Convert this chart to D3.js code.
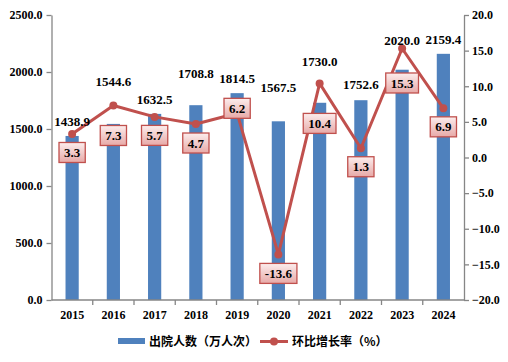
<!DOCTYPE html>
<html><head><meta charset="utf-8">
<script src="https://cdn.jsdelivr.net/npm/d3@7"></script>
<style>body{margin:0;background:#fff}svg{display:block}</style>
</head><body><svg id="c" width="508" height="362"></svg>
<script>
const years = ["2015","2016","2017","2018","2019","2020","2021","2022","2023","2024"];
const discharges = [1438.9,1544.6,1632.5,1708.8,1814.5,1567.5,1730.0,1752.6,2020.0,2159.4];
const growth = [3.3,7.3,5.7,4.7,6.2,-13.6,10.4,1.3,15.3,6.9];
const leftTicks = [0,500,1000,1500,2000,2500];
const rightTicks = [-20,-15,-10,-5,0,5,10,15,20];
const barName = "出院人数（万人次）";
const lineName = "环比增长率（%）";

// layout (pixel nudges for manually placed labels)
const valueLabelY = [121,81,99,73,78,87,61,84,40,39];
const pctLabelDy = [18.5,30,18.5,19,-5,19,40,18.5,34.5,18.5];

const svg = d3.select("#c");
const L = 51.5, R = 464, T = 15, B = 300;
const serif = "'Liberation Serif','Times New Roman',serif";
const cjk = "'Noto Sans CJK SC',sans-serif";
const axisColor = "#868686";

const x = d3.scaleBand().domain(years).range([L,R]).paddingInner(0.68).paddingOuter(0.34);
const yL = d3.scaleLinear().domain([0,2500]).range([B,T]);
const yR = d3.scaleLinear().domain([-20,20]).range([B,T]);
const cx = d => x(d) + x.bandwidth()/2;

const defs = svg.append("defs");
const g = defs.append("linearGradient").attr("id","pk").attr("x1",0).attr("y1",0).attr("x2",0).attr("y2",1);
g.append("stop").attr("offset","0%").attr("stop-color","#FCEDED");
g.append("stop").attr("offset","100%").attr("stop-color","#E7A9A7");

// bars
svg.append("g").selectAll("rect").data(years).join("rect")
  .attr("x", d => x(d)).attr("width", x.bandwidth())
  .attr("y", (d,i) => yL(discharges[i])).attr("height", (d,i) => B - yL(discharges[i]))
  .attr("fill","#4F81BD");

// axes
function styleAxis(sel){
  sel.selectAll("path,line").attr("stroke",axisColor).attr("stroke-width",1.3);
  sel.selectAll("text").attr("font-family",serif).attr("font-weight","bold").attr("font-size",12).attr("fill","#000");
}
const ax1 = svg.append("g").attr("transform",`translate(${L},0)`)
  .call(d3.axisLeft(yL).tickValues(leftTicks).tickFormat(d3.format(".1f")).tickSize(5).tickSizeOuter(0).tickPadding(4));
styleAxis(ax1);
const ax2 = svg.append("g").attr("transform",`translate(${R},0)`)
  .call(d3.axisRight(yR).tickValues(rightTicks).tickFormat(d3.format(".1f")).tickSize(5).tickSizeOuter(0).tickPadding(3));
styleAxis(ax2);
const ax3 = svg.append("g").attr("transform",`translate(0,${B})`)
  .call(d3.axisBottom(x).tickSize(0).tickSizeOuter(0).tickPadding(10));
styleAxis(ax3);
ax3.select("path").attr("d",`M${L},0H${R}`);
ax3.selectAll(".tick text").attr("dy","0.71em").attr("y",10);
const step = x.step();
svg.append("g").selectAll("line").data(d3.range(1,years.length)).join("line")
  .attr("x1", i => L + i*step).attr("x2", i => L + i*step)
  .attr("y1",B).attr("y2",B+5).attr("stroke",axisColor).attr("stroke-width",1.3);

// line
const line = d3.line().x((d,i) => cx(years[i])).y(d => yR(d));
svg.append("path").datum(growth).attr("d",line).attr("fill","none")
  .attr("stroke","#C0504D").attr("stroke-width",3).attr("stroke-linejoin","round");
svg.append("g").selectAll("circle").data(growth).join("circle")
  .attr("cx",(d,i)=>cx(years[i])).attr("cy",d=>yR(d)).attr("r",4).attr("fill","#C0504D");

// value labels
svg.append("g").selectAll("text").data(discharges).join("text")
  .attr("x",(d,i)=>cx(years[i])).attr("y",(d,i)=>valueLabelY[i])
  .attr("text-anchor","middle").attr("dy","0.35em")
  .attr("font-family",serif).attr("font-weight","bold").attr("font-size",13).attr("fill","#000")
  .text(d=>d.toFixed(1));

// percent labels
const pg = svg.append("g");
growth.forEach((v,i)=>{
  const px = cx(years[i]), py = yR(v) + pctLabelDy[i];
  const grp = pg.append("g");
  const r = grp.append("rect");
  const t = grp.append("text").attr("x",px).attr("y",py).attr("dy","0.35em").attr("text-anchor","middle")
    .attr("font-family",serif).attr("font-weight","bold").attr("font-size",13).attr("fill","#000").text(v.toFixed(1));
  const w = t.node().getComputedTextLength() + 10, h = 20;
  r.attr("x",px-w/2).attr("y",py-h/2).attr("width",w).attr("height",h)
    .attr("fill","url(#pk)").attr("stroke","#C0504D").attr("stroke-width",1.3);
});

// legend
const lg = svg.append("g");
lg.append("rect").attr("x",118).attr("y",338).attr("width",27).attr("height",6).attr("fill","#4F81BD");
lg.append("text").attr("x",149).attr("y",342).attr("dy","0.35em").attr("font-family",cjk).attr("font-weight","bold")
  .attr("font-size",12).attr("fill","#000").text(barName);
lg.append("line").attr("x1",260).attr("x2",288).attr("y1",341.5).attr("y2",341.5).attr("stroke","#C0504D").attr("stroke-width",3);
lg.append("circle").attr("cx",274).attr("cy",341.5).attr("r",4).attr("fill","#C0504D");
lg.append("text").attr("x",292).attr("y",342).attr("dy","0.35em").attr("font-family",cjk).attr("font-weight","bold")
  .attr("font-size",12).attr("fill","#000").text(lineName);
</script></body></html>
